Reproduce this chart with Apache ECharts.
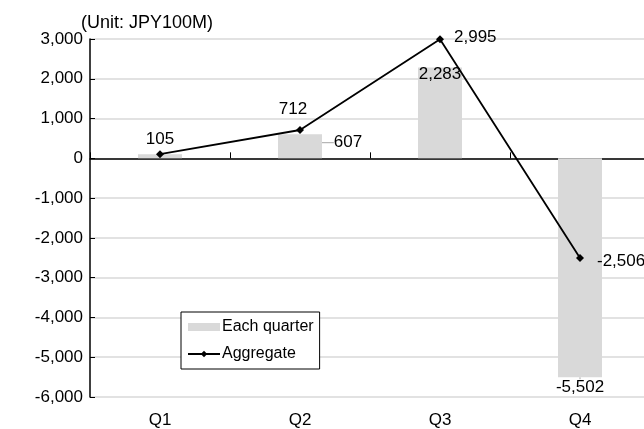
<!DOCTYPE html>
<html>
<head>
<meta charset="utf-8">
<script src="https://cdn.jsdelivr.net/npm/echarts@6/dist/echarts.min.js"></script>
<style>
  html, body { margin: 0; padding: 0; background: #fff; overflow: hidden; }
  /* the plot runs a little past the right edge of the window */
  #chart { width: 660px; height: 429px; }
</style>
</head>
<body>
<div id="chart"></div>
<script>
// Quarterly figures (unit: JPY 100M)
const quarters = ['Q1', 'Q2', 'Q3', 'Q4'];
const eachQuarter = [105, 607, 2283, -5502];
const aggregate = [105, 712, 2995, -2506];
const yTicks = { min: -6000, max: 3000, interval: 1000 };

const FONT = '"Liberation Sans", Arial, sans-serif';
const fmt = v => v.toLocaleString('en-US');

const chart = echarts.init(document.getElementById('chart'), null, { renderer: 'canvas' });

// Per-bar label placement (Q1 shares its label with the line point)
const barLabels = [
  { show: false },
  { show: true, position: 'top', distance: 0 },
  { show: true, position: 'insideTop', distance: 0 },
  { show: true, position: 'insideBottom', distance: 0 }
];
// Nudges applied after layout, per bar
const barShift = [
  { dx: 0, dy: 0 },
  { dx: 48, dy: 17 },
  { dx: 0, dy: -2 },
  { dx: 0, dy: 19 }
];
// Per-point label placement on the aggregate line
const lineLabels = [
  { show: true, position: 'top', distance: 2 },
  { show: true, position: 'top', distance: 8, offset: [-7, 0] },
  { show: true, position: 'right', distance: 10, offset: [0, -2] },
  { show: true, position: 'right', distance: 13, offset: [0, 3] }
];

chart.setOption({
  animation: false,
  textStyle: { fontFamily: FONT },
  title: {
    text: '(Unit: JPY100M)',
    left: 76, top: 9,
    textStyle: { fontFamily: FONT, fontSize: 18, fontWeight: 'normal', color: '#000' }
  },
  grid: { left: 90, top: 39, right: 10, bottom: 29, containLabel: false },
  legend: {
    orient: 'vertical',
    left: 181, top: 312,
    width: 141,
    padding: [7, 6, 7, 6],
    itemGap: 11,
    itemWidth: 32, itemHeight: 8,
    borderColor: '#000', borderWidth: 1,
    backgroundColor: '#fff',
    textStyle: { fontFamily: FONT, fontSize: 16, color: '#000', padding: [0, 0, 0, -3] },
    data: [
      { name: 'Each quarter', icon: 'rect' },
      { name: 'Aggregate' }
    ]
  },
  xAxis: [
    {
      type: 'category',
      data: quarters,
      position: 'bottom',
      axisLine: { onZero: true, lineStyle: { color: '#000', width: 1.5 } },
      axisTick: { show: true, inside: true, length: 6, lineStyle: { color: '#000' } },
      axisLabel: { show: false },
      splitLine: { show: false }
    },
    {
      type: 'category',
      data: quarters,
      position: 'bottom',
      axisLine: { show: false, onZero: false },
      axisTick: { show: false },
      axisLabel: { show: true, margin: 15, fontFamily: FONT, fontSize: 17, color: '#000' },
      splitLine: { show: false }
    }
  ],
  yAxis: {
    type: 'value',
    min: yTicks.min, max: yTicks.max, interval: yTicks.interval,
    axisLine: { show: true, lineStyle: { color: '#000', width: 1.5 } },
    axisTick: { show: true, inside: true, length: 5, lineStyle: { color: '#000' } },
    axisLabel: { margin: 7, fontFamily: FONT, fontSize: 17, color: '#000', formatter: v => fmt(v) },
    splitLine: { show: true, lineStyle: { color: '#d9d9d9', width: 1.5 } }
  },
  series: [
    {
      name: 'Each quarter',
      type: 'bar',
      xAxisIndex: 0,
      barWidth: 44,
      itemStyle: { color: '#d9d9d9' },
      data: eachQuarter.map((v, i) => ({
        value: v,
        label: Object.assign({
          fontFamily: FONT, fontSize: 17, color: '#000', formatter: p => fmt(p.value)
        }, barLabels[i])
      })),
      labelLayout: p => barShift[p.dataIndex],
      labelLine: { show: true, lineStyle: { color: '#a6a6a6', width: 1 } },
      z: 2
    },
    {
      name: 'Aggregate',
      type: 'line',
      xAxisIndex: 0,
      symbol: 'diamond',
      symbolSize: 8,
      itemStyle: { color: '#000' },
      lineStyle: { color: '#000', width: 1.8 },
      data: aggregate.map((v, i) => ({
        value: v,
        label: Object.assign({
          fontFamily: FONT, fontSize: 17, color: '#000', formatter: p => fmt(p.value)
        }, lineLabels[i])
      })),
      z: 3
    }
  ]
});
</script>
</body>
</html>
